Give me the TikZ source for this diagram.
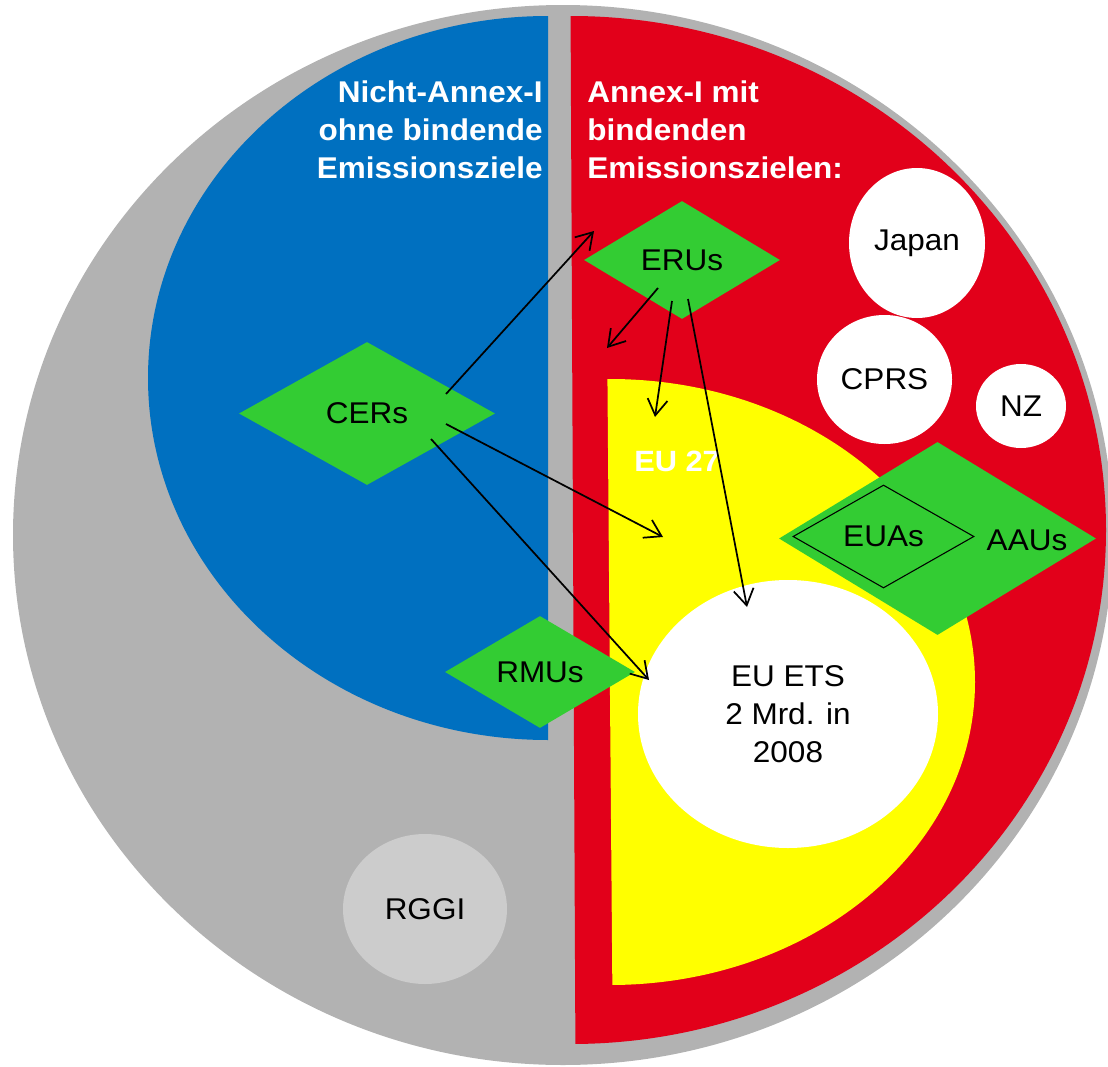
\documentclass[tikz,border=0pt]{standalone}
\usepackage{fontspec}
\setmainfont{Liberation Sans}[FakeStretch=1.05]
\usetikzlibrary{shapes.geometric,arrows.meta}
\definecolor{cgray}{HTML}{B2B2B2}
\definecolor{clight}{HTML}{CCCCCC}
\definecolor{cblue}{HTML}{0070C0}
\definecolor{cred}{HTML}{E2001A}
\definecolor{cyellow}{HTML}{FFFF00}
\definecolor{cgreen}{HTML}{33CC33}
\newcommand{\lblfont}{\fontsize{22.5}{28.5}\selectfont}
\newcommand{\ttlfont}{\fontsize{22.5}{28.5}\selectfont\bfseries}
\begin{document}
\begin{tikzpicture}[x=0.75pt,y=-0.75pt]
\tikzset{
  bubble/.style={ellipse, fill=white, inner sep=0pt, font=\lblfont},
  gem/.style={diamond, fill=cgreen, inner sep=0pt, font=\lblfont},
  flow/.style={draw=black, line width=1.3pt, -{Straight Barb[length=12pt,width=15pt]}},
  title/.style={text=white, font=\ttlfont, inner sep=0pt},
}
\useasboundingbox (0,0) rectangle (1108,1067);
\clip (0,0) rectangle (1108,1067);
% outer gray disc
\fill[cgray] (563,535) ellipse [x radius=550, y radius=530];
% blue half
\begin{scope}
  \clip (0,0) rectangle (548,1067);
  \fill[cblue] (548,378) ellipse [x radius=400, y radius=362];
\end{scope}
% red half
\begin{scope}
  \clip (570.5,0) -- (575.5,1067) -- (1108,1067) -- (1108,0) -- cycle;
  \fill[cred] (571,530) ellipse [x radius=535, y radius=514];
\end{scope}
% yellow EU 27
\begin{scope}
  \clip (606.8,300) -- (613,1067) -- (1108,1067) -- (1108,300) -- cycle;
  \fill[cyellow] (610,682) ellipse [x radius=365, y radius=303];
\end{scope}
% bubbles
\node[bubble, fill=clight, minimum width=123pt, minimum height=112.5pt] (rggi) at (425,909) {RGGI};
\node[bubble, minimum width=102pt, minimum height=112.5pt] (japan) at (917,243) {Japan};
\node[bubble, minimum width=101.25pt, minimum height=96.75pt] (cprs) at (884.5,379.5) {CPRS};
\node[bubble, minimum width=67.5pt, minimum height=63pt] (nz) at (1021,406) {NZ};
\node[bubble, minimum width=225pt, minimum height=201pt, align=center] (ets) at (788,714) {EU ETS\\2 Mrd. in\\2008};
\node[text=white, font=\fontsize{22}{26}\selectfont\bfseries, inner sep=0pt, anchor=base west] (eu27) at (634,471) {EU 27};
% diamonds
\node[gem, minimum width=147pt, minimum height=88.5pt] (eru) at (682,260) {ERUs};
\node[gem, minimum width=192pt, minimum height=107.25pt] (cer) at (367,413.5) {CERs};
\node[gem, minimum width=142.5pt, minimum height=84pt] (rmu) at (540,672) {RMUs};
\node[gem, minimum width=237.75pt, minimum height=144.75pt] (aau) at (937.5,538.5) {};
\node[gem, draw=black, line width=0.8pt, minimum width=135.75pt, minimum height=77.25pt] (eua) at (883.5,536.5) {EUAs};
\node[font=\lblfont, inner sep=0pt] (aautxt) at (1027,540) {AAUs};
% titles
\node[title, align=right, anchor=north east] (nonannex) at (543,80.5) {Nicht-Annex-I\\ohne bindende\\Emissionsziele};
\node[title, align=left, anchor=north west] (annex) at (587,80.5) {Annex-I mit\\bindenden\\Emissionszielen:};
% arrow end points
\coordinate (s1) at (446,394);  \coordinate (e1) at (594,231);
\coordinate (s2) at (658,288);  \coordinate (e2) at (607,348);
\coordinate (s3) at (672,301);  \coordinate (e3) at (655,417);
\coordinate (s4) at (688,299);  \coordinate (e4) at (747,607);
\coordinate (s5) at (446,424);  \coordinate (e5) at (663,537);
\coordinate (s6) at (431,439);  \coordinate (e6) at (649,680);
\draw[flow] (s1) -- (e1);
\draw[flow] (s2) -- (e2);
\draw[flow] (s3) -- (e3);
\draw[flow] (s4) -- (e4);
\draw[flow] (s5) -- (e5);
\draw[flow] (s6) -- (e6);
\end{tikzpicture}
\end{document}
